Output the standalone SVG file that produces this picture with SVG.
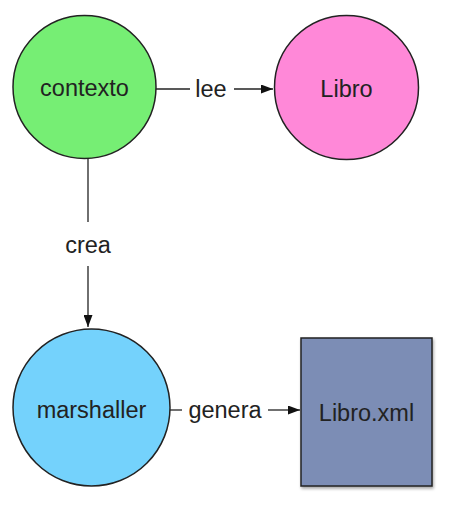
<svg xmlns="http://www.w3.org/2000/svg" width="450" height="506" viewBox="0 0 450 506">
<defs>
<marker id="arr" markerWidth="12" markerHeight="9" refX="12" refY="4.5" orient="auto" markerUnits="userSpaceOnUse">
<path d="M0,0 L12,4.5 L0,9 Z" fill="#111"/>
</marker>
<filter id="sh" x="-10%" y="-10%" width="130%" height="130%">
<feDropShadow dx="1" dy="2" stdDeviation="1.5" flood-color="#000" flood-opacity="0.35"/>
</filter>
</defs>
<style>
.node{stroke:#222;stroke-width:1.5}
.lbl{font-family:"Liberation Sans",Arial,sans-serif;font-size:23.5px;text-anchor:middle;fill:#222}
.edge{stroke:#222;stroke-width:1.3;fill:none}
</style>
<rect width="450" height="506" fill="#fff"/>
<g id="connectors">
<line class="edge" x1="156" y1="89" x2="190" y2="89"/>
<text class="lbl" x="211" y="97">lee</text>
<line class="edge" x1="234" y1="89" x2="273" y2="89" marker-end="url(#arr)"/>
<line class="edge" x1="88" y1="159" x2="88" y2="222"/>
<text class="lbl" x="88" y="253">crea</text>
<line class="edge" x1="88" y1="266" x2="88" y2="327" marker-end="url(#arr)"/>
<line class="edge" x1="170" y1="410" x2="182" y2="410"/>
<text class="lbl" x="225" y="418">genera</text>
<line class="edge" x1="268" y1="410" x2="300" y2="410" marker-end="url(#arr)"/>
</g>
<g id="contexto">
<circle class="node" cx="84.5" cy="87" r="71.5" fill="#76ee74"/>
<text class="lbl" x="84.5" y="96">contexto</text>
</g>
<g id="libro">
<circle class="node" cx="346.5" cy="87.5" r="72" fill="#ff88d8"/>
<text class="lbl" x="346.5" y="97">Libro</text>
</g>
<g id="marshaller">
<circle class="node" cx="91.5" cy="407.5" r="78.5" fill="#74d2fc"/>
<text class="lbl" x="91.5" y="418">marshaller</text>
</g>
<g id="libroxml">
<rect class="node" x="301" y="338" width="131" height="148" fill="#7b8db5" filter="url(#sh)"/>
<text class="lbl" x="366.5" y="421">Libro.xml</text>
</g>
</svg>
